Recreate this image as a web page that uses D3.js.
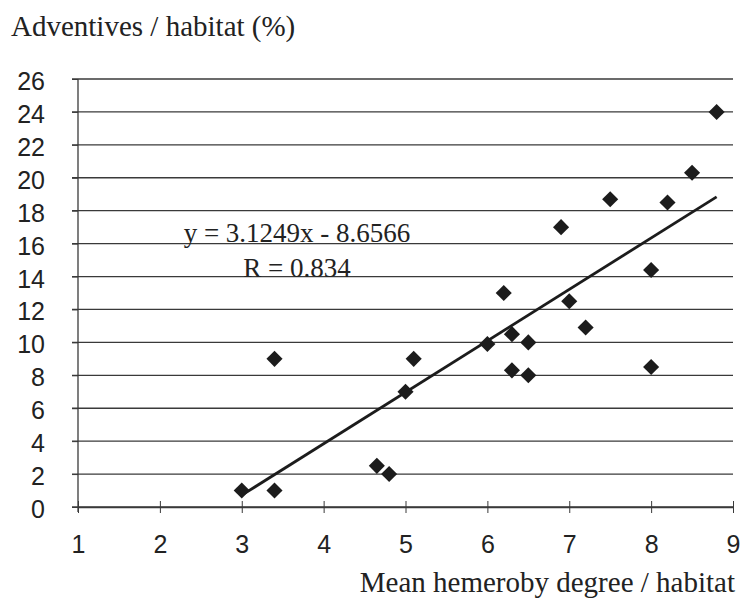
<!DOCTYPE html>
<html>
<head>
<meta charset="utf-8">
<script src="https://cdn.jsdelivr.net/npm/d3@7"></script>
<style>
  body { margin: 0; background: #fff; }
  .tick text { font-family: "Liberation Sans", Arial, sans-serif; font-size: 25px; fill: #222; }
  .serif { font-family: "Liberation Serif", "Times New Roman", serif; fill: #222; }
</style>
</head>
<body>
<svg id="chart" width="742" height="601"></svg>
<script>
// hemeroby degree (x) vs adventive share (y)
const hemeroby = [3.0, 3.4, 3.4, 4.65, 4.8, 5.0, 5.1, 6.0, 6.2, 6.3, 6.3, 6.5, 6.5, 6.9, 7.0, 7.2, 7.5, 8.0, 8.0, 8.2, 8.5, 8.8]
const adventives = [1.0, 1.0, 9.0, 2.5, 2.0, 7.0, 9.0, 9.9, 13.0, 10.5, 8.3, 10.0, 8.0, 17.0, 12.5, 10.9, 18.7, 8.5, 14.4, 18.5, 20.3, 24.0]
const xTicks = [1, 2, 3, 4, 5, 6, 7, 8, 9]
const yTicks = [0, 2, 4, 6, 8, 10, 12, 14, 16, 18, 20, 22, 24, 26]
const slope = 3.1249
const intercept = -8.6566
const equationLines = ['y = 3.1249x - 8.6566', 'R = 0.834']

const points = hemeroby.map((h, i) => ({ x: h, y: adventives[i] }))

const svg = d3.select('#chart')
const x = d3.scaleLinear().domain([1, 9]).range([78, 733])
const y = d3.scaleLinear().domain([0, 26]).range([507, 79])
const ink = '#1c1c1c'

// gridlines
svg.selectAll('.grid')
    .data(yTicks)
    .enter()
    .append('line')
    .classed('grid', true)
    .attr('x1', 72)
    .attr('x2', 733)
    .attr('y1', d => y(d))
    .attr('y2', d => y(d))
    .attr('stroke', '#3a3a3a')
    .attr('stroke-width', 1.3)

// y axis
const yAxis = svg.append('g')
    .attr('transform', 'translate(78,0)')
    .call(d3.axisLeft(y).tickValues(yTicks).tickSize(6).tickPadding(27).tickSizeOuter(0))
yAxis.select('.domain').attr('stroke', '#3a3a3a').attr('stroke-width', 1.3)
    .attr('d', `M0,${y(26)}V${y(0) + 5}`)
yAxis.selectAll('.tick line').attr('stroke', '#3a3a3a')
yAxis.selectAll('.tick text').attr('dy', '0.42em')

// x axis
const xAxis = svg.append('g')
    .attr('transform', `translate(0,${y(0)})`)
    .call(d3.axisBottom(x).tickValues(xTicks).tickSize(6).tickPadding(22).tickSizeOuter(0))
xAxis.select('.domain').attr('stroke', '#3a3a3a').attr('stroke-width', 1.3)
xAxis.selectAll('.tick line').attr('y1', -6).attr('y2', 6).attr('stroke', '#3a3a3a')

// trend line
const xExtent = d3.extent(hemeroby)
svg.append('line')
    .attr('x1', x(xExtent[0]))
    .attr('y1', y(slope * xExtent[0] + intercept))
    .attr('x2', x(xExtent[1]))
    .attr('y2', y(slope * xExtent[1] + intercept))
    .attr('stroke', ink)
    .attr('stroke-width', 2.8)

// diamonds
const diamond = d3.symbol().type(d3.symbolDiamond2).size(165)
svg.selectAll('.pt')
    .data(points)
    .enter()
    .append('path')
    .classed('pt', true)
    .attr('d', diamond)
    .attr('transform', d => `translate(${x(d.x)},${y(d.y)})`)
    .attr('fill', ink)

// equation text
svg.selectAll('.eq')
    .data(equationLines)
    .enter()
    .append('text')
    .classed('serif', true)
    .attr('x', 297)
    .attr('y', (d, i) => 242 + i * 35)
    .attr('text-anchor', 'middle')
    .style('font-size', '27px')
    .text(d => d)

// titles
svg.append('text')
    .classed('serif', true)
    .attr('x', 11)
    .attr('y', 36)
    .style('font-size', '29px')
    .text('Adventives / habitat (%)')

svg.append('text')
    .classed('serif', true)
    .attr('x', 735)
    .attr('y', 592)
    .attr('text-anchor', 'end')
    .style('font-size', '29px')
    .text('Mean hemeroby degree / habitat')
</script>
</body>
</html>
